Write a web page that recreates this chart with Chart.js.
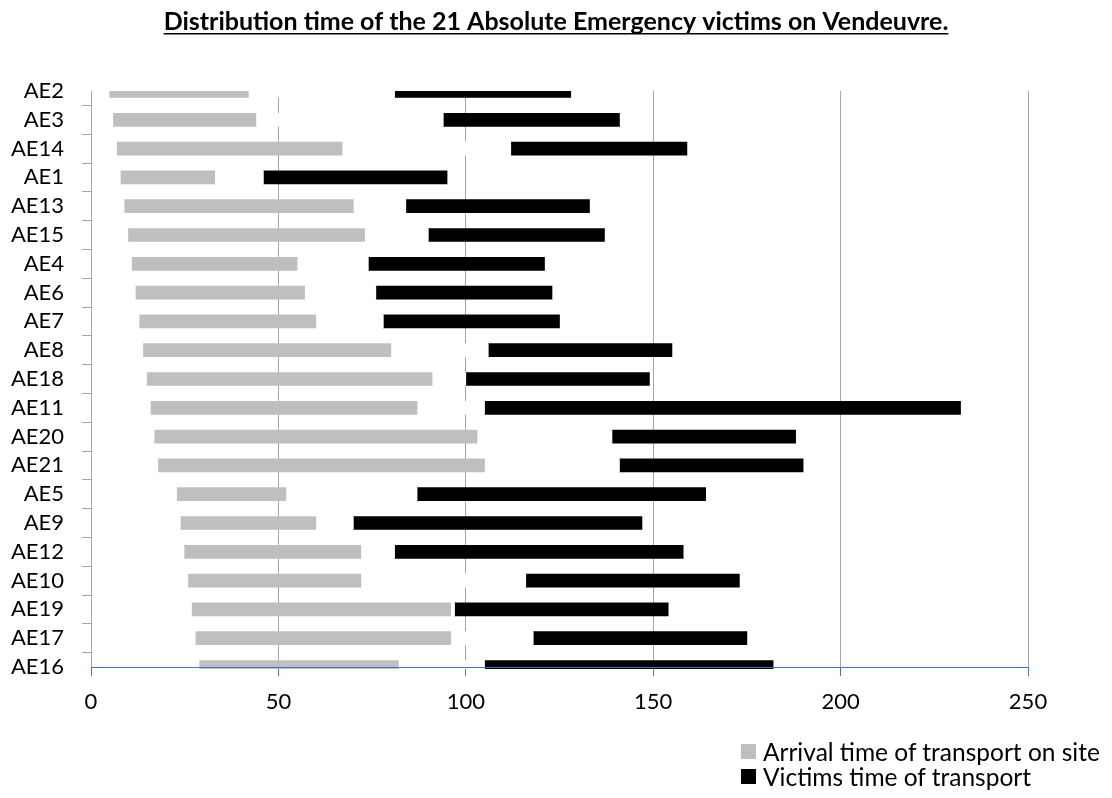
<!DOCTYPE html>
<html>
<head>
<meta charset="utf-8">
<title>Distribution time of the 21 Absolute Emergency victims</title>
<script src="https://cdn.jsdelivr.net/npm/chart.js@4.4.1/dist/chart.umd.min.js"></script>
<style>
	html, body { margin: 0; padding: 0; background: #fff; }
	#wrap { position: relative; width: 1112px; height: 798px; }
	#legend { position: absolute; left: 741px; top: 739px; font-family: Lato, 'Open Sans', sans-serif; font-size: 24.5px; color: #000; white-space: nowrap; }
	#legend .item { display: flex; align-items: center; height: 25px; }
	#legend .box { width: 15px; height: 15px; margin-right: 7px; flex: none; }
</style>
</head>
<body>
<div id="wrap">
	<canvas id="chart" width="1112" height="798"></canvas>
	<div id="legend"></div>
</div>
<script>
'use strict'

const victims = ['AE2', 'AE3', 'AE14', 'AE1', 'AE13', 'AE15', 'AE4', 'AE6', 'AE7', 'AE8', 'AE18', 'AE11', 'AE20', 'AE21', 'AE5', 'AE9', 'AE12', 'AE10', 'AE19', 'AE17', 'AE16'];
// minutes
const arrivalStart = [5, 6, 7, 8, 9, 10, 11, 12, 13, 14, 15, 16, 17, 18, 23, 24, 25, 26, 27, 28, 29];
const arrivalEnd = [42, 44, 67, 33, 70, 73, 55, 57, 60, 80, 91, 87, 103, 105, 52, 60, 72, 72, 96, 96, 82];
const transportStart = [81, 94, 112, 46, 84, 90, 74, 76, 78, 106, 100, 105, 139, 141, 87, 70, 81, 116, 97, 118, 105];
const transportEnd = [128, 141, 159, 95, 133, 137, 121, 123, 125, 155, 149, 232, 188, 190, 164, 147, 158, 173, 154, 175, 182];
const xTicks = [0, 50, 100, 150, 200, 250];

const font = 'Lato, "Open Sans", sans-serif';
const colors = {
	arrival: '#bfbfbf',
	transport: '#000000',
	gap: '#ffffff',
	grid: '#a6a6a6',
	axis: '#4472c4',
};

function pairs(a, b) {
	return victims.map((v, i) => [a[i], b[i]]);
}

const barDefaults = {
	barThickness: 13,
	grouped: false,
	borderWidth: 0,
	clip: { left: 0, top: 0, right: 0, bottom: 2 },
};

// title centred on the whole page and underlined, the library has no option for either
const titleUnderline = {
	id: 'titleUnderline',
	afterLayout(chart) {
		const t = chart.titleBlock;
		if (!t) return;
		t.left = 0;
		t.right = chart.width;
		t.width = chart.width;
	},
	afterDraw(chart) {
		const t = chart.titleBlock;
		if (!t) return;
		const opts = chart.options.plugins.title;
		const ctx = chart.ctx;
		ctx.save();
		ctx.font = 'bold ' + opts.font.size + 'px ' + font;
		const w = ctx.measureText(opts.text).width;
		const cx = (t.left + t.right) / 2;
		const y = t.top + opts.padding.top + opts.font.size * 1.2 / 2 + opts.font.size * 0.47;
		ctx.strokeStyle = '#000';
		ctx.lineWidth = 1.5;
		ctx.beginPath();
		ctx.moveTo(cx - w / 2, y);
		ctx.lineTo(cx + w / 2, y);
		ctx.stroke();
		ctx.restore();
	},
};

let chart = new Chart(document.getElementById('chart'), {
	type: 'bar',
	data: {
		labels: victims,
		datasets: [
			Object.assign({
				label: 'Arrival time of transport on site',
				data: pairs(arrivalStart, arrivalEnd),
				backgroundColor: colors.arrival,
			}, barDefaults),
			Object.assign({
				label: '',
				data: pairs(arrivalEnd, transportStart),
				backgroundColor: colors.gap,
			}, barDefaults),
			Object.assign({
				label: 'Victims time of transport',
				data: pairs(transportStart, transportEnd),
				backgroundColor: colors.transport,
			}, barDefaults),
		],
	},
	options: {
		indexAxis: 'y',
		responsive: false,
		animation: false,
		layout: {
			padding: { top: 0, right: 84, bottom: 0, left: 0 },
		},
		plugins: {
			legend: { display: false },
			tooltip: { enabled: false },
			title: {
				display: true,
				text: 'Distribution time of the 21 Absolute Emergency victims on Vendeuvre.',
				color: '#000',
				font: { family: font, size: 25, weight: 'bold' },
				padding: { top: 7, bottom: 54 },
			},
		},
		scales: {
			x: {
				type: 'linear',
				min: 0,
				max: 250,
				afterBuildTicks: (scale) => {
					scale.ticks = xTicks.map((v) => ({ value: v }));
				},
				afterFit: (scale) => {
					scale.height = 131;
				},
				grid: {
					color: colors.grid,
					tickColor: colors.axis,
					tickLength: 9,
				},
				border: {
					color: colors.axis,
					width: 1,
					z: 1,
				},
				ticks: {
					color: '#000',
					padding: 13,
					font: { family: font, size: 22 },
				},
			},
			y: {
				type: 'category',
				offset: false,
				afterFit: (scale) => {
					scale.width = 91;
				},
				grid: {
					drawOnChartArea: false,
					color: colors.grid,
					tickLength: 9,
				},
				border: {
					color: colors.grid,
				},
				ticks: {
					color: '#000',
					padding: 18,
					autoSkip: false,
					font: { family: font, size: 22 },
				},
			},
		},
	},
	plugins: [titleUnderline],
});

// legend built from the datasets, one entry per row
let legendEl = document.getElementById('legend');
chart.data.datasets.filter((d) => d.label).forEach((d) => {
	let item = document.createElement('div');
	item.className = 'item';
	let box = document.createElement('span');
	box.className = 'box';
	box.style.background = d.backgroundColor;
	let text = document.createElement('span');
	text.textContent = d.label;
	item.appendChild(box);
	item.appendChild(text);
	legendEl.appendChild(item);
});
</script>
</body>
</html>
